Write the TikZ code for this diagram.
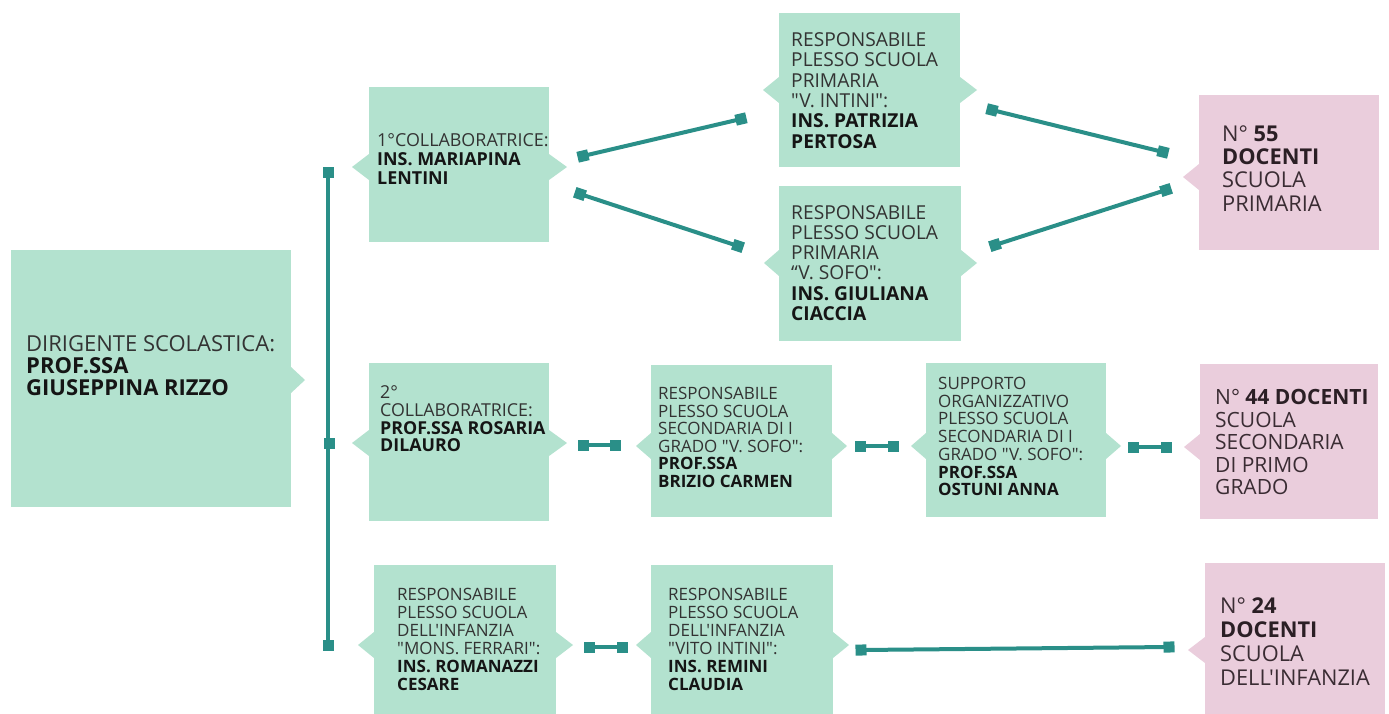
\documentclass[tikz,border=0pt]{standalone}
\usepackage{fontspec}
\setmainfont{Open Sans}[Ligatures=TeXOff]
\usetikzlibrary{arrows.meta}
\definecolor{gfill}{HTML}{B3E2CF}
\definecolor{pfill}{HTML}{EACDDC}
\definecolor{conncol}{HTML}{2A8F88}
\definecolor{gtext}{HTML}{333333}
\definecolor{btext}{HTML}{151515}
\definecolor{ptext}{HTML}{3A2C33}
\definecolor{pbtext}{HTML}{2B1F25}
\newcommand{\bt}[1]{{\bfseries\color{btext}#1}}
\newcommand{\pbt}[1]{{\bfseries\color{pbtext}#1}}
\newcommand{\notch}[4]{\fill[#4] (#1,#3-13) -- (#2,#3) -- (#1,#3+13) -- cycle;}
\tikzset{
  gbox/.style={fill=gfill, draw=none, rectangle, anchor=north west, inner sep=0pt},
  pbox/.style={fill=pfill, draw=none, rectangle, anchor=north west, inner sep=0pt},
  conn/.style={draw=conncol, line width=4pt, {Square[length=11pt,width=11pt]}-{Square[length=11pt,width=11pt]}, shorten <=-5.5pt, shorten >=-5.5pt},
  txt/.style={anchor=north west, inner sep=0pt, align=left, text=gtext},
  ptxt/.style={anchor=north west, inner sep=0pt, align=left, text=ptext},
  sqr/.style={fill=conncol, draw=none, rectangle, minimum size=11pt, inner sep=0pt}
}
\begin{document}
\begin{tikzpicture}[x=1pt,y=-1pt]
\useasboundingbox (0,0) rectangle (1389,713);
\fill[white] (0,0) rectangle (1389,713);
\clip (0,0) rectangle (1389,713);
% boxes
\node[gbox, minimum width=280pt, minimum height=257pt] (dir) at (11,250) {};
\notch{291}{305}{380}{gfill}
\node[gbox, minimum width=180pt, minimum height=155pt] (c1) at (369,87) {};
\notch{369}{352}{167}{gfill}\notch{549}{567}{167}{gfill}
\node[gbox, minimum width=181pt, minimum height=154pt] (pi) at (779,13) {};
\notch{779}{763}{90}{gfill}\notch{960}{977}{90}{gfill}
\node[gbox, minimum width=182pt, minimum height=155pt] (ps) at (779,186) {};
\notch{779}{764}{263}{gfill}\notch{961}{977}{263}{gfill}
\node[pbox, minimum width=180pt, minimum height=155pt] (n55) at (1199,95) {};
\notch{1199}{1183}{177}{pfill}
\node[gbox, minimum width=180pt, minimum height=158pt] (c2) at (369,363) {};
\notch{369}{352}{443}{gfill}\notch{549}{567}{443}{gfill}
\node[gbox, minimum width=181pt, minimum height=152pt] (rs) at (651,365) {};
\notch{651}{636}{446}{gfill}\notch{832}{847}{446}{gfill}
\node[gbox, minimum width=180pt, minimum height=154pt] (sp) at (926,363) {};
\notch{926}{911}{446}{gfill}\notch{1106}{1121}{446}{gfill}
\node[pbox, minimum width=178pt, minimum height=155pt] (n44) at (1200,364) {};
\notch{1200}{1184}{447}{pfill}
\node[gbox, minimum width=182pt, minimum height=160pt] (fe) at (374,565) {};
\notch{374}{358}{645}{gfill}\notch{556}{573}{645}{gfill}
\node[gbox, minimum width=182pt, minimum height=160pt] (vi) at (651,565) {};
\notch{651}{636}{645}{gfill}\notch{833}{849}{645}{gfill}
\node[pbox, minimum width=180pt, minimum height=170pt] (n24) at (1205,563) {};
\notch{1205}{1188}{650}{pfill}
% texts
\node[txt, font=\fontsize{22}{22}\selectfont] (dirt) at (26,335) {DIRIGENTE SCOLASTICA:\\\bt{PROF.SSA}\\\bt{GIUSEPPINA RIZZO}};
\node[txt, font=\fontsize{17.9}{19}\selectfont] (c1t) at (377,133.6) {1°COLLABORATRICE:\\\bt{INS. MARIAPINA}\\\bt{LENTINI}};
\node[txt, font=\fontsize{19.2}{20.4}\selectfont] (pit) at (791,32.2) {RESPONSABILE\\PLESSO SCUOLA\\PRIMARIA\\"V. INTINI":\\\bt{INS. PATRIZIA}\\\bt{PERTOSA}};
\node[txt, font=\fontsize{19.2}{20.2}\selectfont] (pst) at (791,205.2) {RESPONSABILE\\PLESSO SCUOLA\\PRIMARIA\\“V. SOFO":\\\bt{INS. GIULIANA}\\\bt{CIACCIA}};
\node[ptxt, font=\fontsize{21.8}{23.3}\selectfont] (n55t) at (1222,125.2) {N° \pbt{55}\\\pbt{DOCENTI}\\SCUOLA\\PRIMARIA};
\node[txt, font=\fontsize{17.8}{17.7}\selectfont] (c2t) at (380,385.6) {2°\\COLLABORATRICE:\\\bt{PROF.SSA ROSARIA}\\\bt{DILAURO}};
\node[txt, font=\fontsize{17}{17.5}\selectfont] (rst) at (658,387) {RESPONSABILE\\PLESSO SCUOLA\\SECONDARIA DI I\\GRADO "V. SOFO":\\\bt{PROF.SSA}\\\bt{BRIZIO CARMEN}};
\node[txt, font=\fontsize{17}{17.7}\selectfont] (spt) at (938,377) {SUPPORTO\\ORGANIZZATIVO\\PLESSO SCUOLA\\SECONDARIA DI I\\GRADO "V. SOFO":\\\bt{PROF.SSA}\\\bt{OSTUNI ANNA}};
\node[ptxt, font=\fontsize{21}{22.5}\selectfont] (n44t) at (1215,389.5) {N° \pbt{44 DOCENTI}\\SCUOLA\\SECONDARIA\\DI PRIMO\\GRADO};
\node[txt, font=\fontsize{17}{18}\selectfont] (fet) at (397,588) {RESPONSABILE\\PLESSO SCUOLA\\DELL'INFANZIA\\"MONS. FERRARI":\\\bt{INS. ROMANAZZI}\\\bt{CESARE}};
\node[txt, font=\fontsize{17}{18}\selectfont] (vit) at (668,588) {RESPONSABILE\\PLESSO SCUOLA\\DELL'INFANZIA\\"VITO INTINI":\\\bt{INS. REMINI}\\\bt{CLAUDIA}};
\node[ptxt, font=\fontsize{21.8}{24}\selectfont] (n24t) at (1220,598) {N° \pbt{24}\\\pbt{DOCENTI}\\SCUOLA\\DELL'INFANZIA};
% connector ends
\coordinate (vt) at (328,172);
\coordinate (vb) at (328,645);
\coordinate (vm) at (329,443);
\coordinate (a1) at (583,156); \coordinate (a2) at (741,119);
\coordinate (b1) at (580,194); \coordinate (b2) at (738,246);
\coordinate (d1) at (992,110); \coordinate (d2) at (1163,152);
\coordinate (e1) at (995,245); \coordinate (e2) at (1166,190);
\coordinate (f1) at (583,445); \coordinate (f2) at (615,445);
\coordinate (g1) at (860,446); \coordinate (g2) at (893,446);
\coordinate (h1) at (1133,447); \coordinate (h2) at (1166,447);
\coordinate (k1) at (589,647); \coordinate (k2) at (622,647);
\coordinate (m1) at (861,650); \coordinate (m2) at (1169,647);
% connectors
\draw[conn] (vt) -- (vb);
\node[sqr] (vms) at (vm) {};
\draw[conn] (a1) -- (a2);
\draw[conn] (b1) -- (b2);
\draw[conn] (d1) -- (d2);
\draw[conn] (e1) -- (e2);
\draw[conn] (f1) -- (f2);
\draw[conn] (g1) -- (g2);
\draw[conn] (h1) -- (h2);
\draw[conn] (k1) -- (k2);
\draw[conn] (m1) -- (m2);
\end{tikzpicture}
\end{document}
